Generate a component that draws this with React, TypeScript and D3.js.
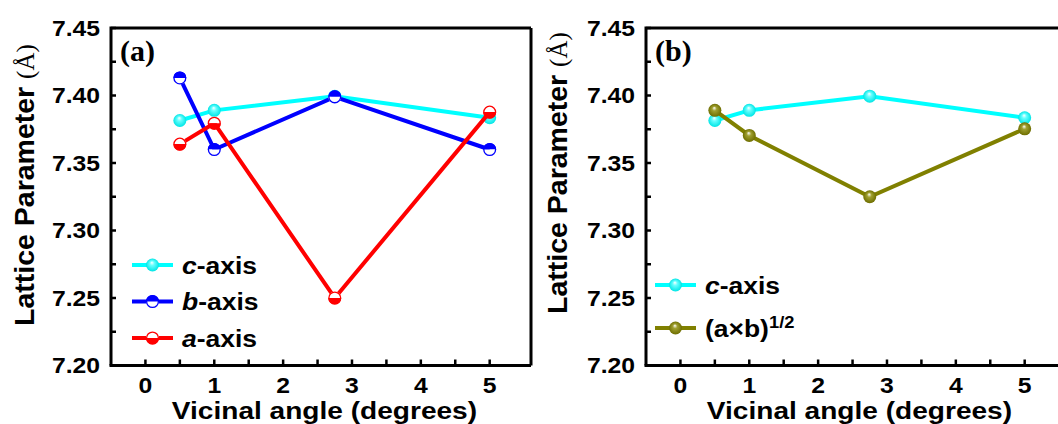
import React from "react";
import * as d3 from "d3";

const angles = [0.5, 1, 2.75, 5];
const cAxis = [7.3815, 7.389, 7.3995, 7.3835];
const bAxis = [7.413, 7.36, 7.399, 7.36];
const aAxis = [7.364, 7.3795, 7.25, 7.3877];
const abRoot = [7.389, 7.3704, 7.325, 7.3753];

const yTicks = [7.2, 7.25, 7.3, 7.35, 7.4, 7.45];
const xTicks = [0, 1, 2, 3, 4, 5];
const yLabels = ["7.20", "7.25", "7.30", "7.35", "7.40", "7.45"];

const W = 1058;
const H = 424;
const TOP = 28;
const BOTTOM = 365.5;
const PW = 420;

type Series = { name: string; values: number[]; color: string; marker: "ballC" | "ballO" | "halfTop" | "halfBottom" };

const SANS = "'Liberation Sans', Arial, sans-serif";
const SERIF = "'Liberation Serif', 'Times New Roman', serif";

function Marker({ x, y, s, id }: { x: number; y: number; s: Series; id: string }) {
  const r = 6.5;
  if (s.marker === "ballC" || s.marker === "ballO") {
    return <circle cx={x} cy={y} r={r} fill={`url(#${id})`} />;
  }
  const topFill = s.marker === "halfTop" ? s.color : "#ffffff";
  const botFill = s.marker === "halfTop" ? "#ffffff" : s.color;
  return (
    <g>
      <path d={`M${x - r},${y} A${r},${r} 0 0 1 ${x + r},${y} Z`} fill={topFill} />
      <path d={`M${x - r},${y} A${r},${r} 0 0 0 ${x + r},${y} Z`} fill={botFill} />
      <circle cx={x} cy={y} r={r - 0.6} fill="none" stroke={s.color} strokeWidth={1.3} />
    </g>
  );
}

function gradId(s: Series) {
  return s.marker === "ballC" ? "gradC" : "gradO";
}

function Panel({ left, label, series, legendX, legendY, legendGap, titleBase, titleStart }: any) {
  const x = d3.scaleLinear().domain([-0.5, 5.6]).range([left, left + PW]);
  const y = d3.scaleLinear().domain([7.2, 7.45]).range([BOTTOM, TOP]);
  const line = d3
    .line<number>()
    .x((_, i) => x(angles[i]))
    .y((d) => y(d));
  const minorY = d3.range(7.2, 7.4501, 0.025);
  const minorX = d3.range(0, 5.01, 0.5);
  return (
    <g>
      <path
        d={`M${left},${BOTTOM} L${left},${TOP} L${Math.min(left + PW, W + 5)},${TOP}`}
        fill="none"
        stroke="#000"
        strokeWidth={3}
      />
      <line x1={left - 1.5} x2={left + PW} y1={BOTTOM} y2={BOTTOM} stroke="#000" strokeWidth={3} />
      <line x1={left + PW} x2={left + PW} y1={TOP} y2={BOTTOM} stroke="#000" strokeWidth={3} />
      {minorY.map((t, i) => (
        <line key={"yt" + i} x1={left} x2={left + 5} y1={y(t)} y2={y(t)} stroke="#000" strokeWidth={2.5} />
      ))}
      {minorX.map((t, i) => (
        <line key={"xt" + i} x1={x(t)} x2={x(t)} y1={BOTTOM} y2={BOTTOM - 6} stroke="#000" strokeWidth={2.5} />
      ))}
      {yTicks.map((t, i) => (
        <g key={"yl" + i} transform={`translate(${left - 11},${y(t) + 7.5}) scale(1.15,1)`}>
          <text textAnchor="end" fontFamily={SANS} fontWeight="bold" fontSize={21.5}>
            {yLabels[i]}
          </text>
        </g>
      ))}
      {xTicks.map((t, i) => (
        <g key={"xl" + i} transform={`translate(${x(t)},${393}) scale(1.15,1)`}>
          <text textAnchor="middle" fontFamily={SANS} fontWeight="bold" fontSize={21.5}>
            {String(t)}
          </text>
        </g>
      ))}
      <g transform={`translate(${x(2.6)},${419}) scale(1.17,1)`}>
        <text textAnchor="middle" fontFamily={SANS} fontWeight="bold" fontSize={24}>
          Vicinal angle (degrees)
        </text>
      </g>
      <g transform={`translate(${titleBase},${titleStart}) rotate(-90)`}>
        <text fontFamily={SANS} fontWeight="bold" fontSize={28.5}>
          Lattice Parameter{" "}
          <tspan fontFamily={SERIF} fontWeight="normal" fontSize={25}>
            (Å)
          </tspan>
        </text>
      </g>
      <text x={left + 9} y={61} fontFamily={SERIF} fontWeight="bold" fontSize={30}>
        {label}
      </text>
      {series.map((s: Series) => (
        <g key={s.name}>
          <path d={line(s.values) || ""} fill="none" stroke={s.color} strokeWidth={4} />
          {s.values.map((v, i) => (
            <Marker key={i} x={x(angles[i])} y={y(v)} s={s} id={gradId(s)} />
          ))}
        </g>
      ))}
      {series.map((s: Series, i: number) => {
        const ly = legendY + i * legendGap;
        return (
          <g key={"lg" + s.name}>
            <line x1={legendX} x2={legendX + 41} y1={ly} y2={ly} stroke={s.color} strokeWidth={4} />
            <Marker x={legendX + 20.5} y={ly} s={s} id={gradId(s)} />
            <g transform={`translate(${legendX + 50},${ly + 8.5}) scale(1.08,1)`}>
              <text fontFamily={SANS} fontWeight="bold" fontSize={24.5}>
                {s.name === "ab" ? (
                  <>
                    (a×b)
                    <tspan dy={-9} fontSize={17}>
                      1/2
                    </tspan>
                  </>
                ) : (
                  <>
                    <tspan fontStyle="italic">{s.name}</tspan>-axis
                  </>
                )}
              </text>
            </g>
          </g>
        );
      })}
    </g>
  );
}

export default function App() {
  const seriesA: Series[] = [
    { name: "c", values: cAxis, color: "#00FFFF", marker: "ballC" },
    { name: "b", values: bAxis, color: "#0000FF", marker: "halfTop" },
    { name: "a", values: aAxis, color: "#FF0000", marker: "halfBottom" },
  ];
  const seriesB: Series[] = [
    { name: "c", values: cAxis, color: "#00FFFF", marker: "ballC" },
    { name: "ab", values: abRoot, color: "#808000", marker: "ballO" },
  ];
  return (
    <svg width={W} height={H} style={{ position: "absolute", left: 0, top: 0, background: "#fff" }}>
      <defs>
        <radialGradient id="gradC" cx="0.5" cy="0.5" r="0.5" fx="0.45" fy="0.3">
          <stop offset="0" stopColor="#ffffff" />
          <stop offset="0.35" stopColor="#66ffff" />
          <stop offset="1" stopColor="#00e5e5" />
        </radialGradient>
        <radialGradient id="gradO" cx="0.5" cy="0.5" r="0.5" fx="0.45" fy="0.3">
          <stop offset="0" stopColor="#ffffff" />
          <stop offset="0.35" stopColor="#a0a030" />
          <stop offset="1" stopColor="#6e6e00" />
        </radialGradient>
      </defs>
      <rect width={W} height={H} fill="#fff" />
      <Panel left={111} label="(a)" series={seriesA} legendX={132} legendY={265} legendGap={36.5} titleBase={34} titleStart={326} />
      <Panel left={646} label="(b)" series={seriesB} legendX={655} legendY={285} legendGap={43} titleBase={567} titleStart={314} />
    </svg>
  );
}
